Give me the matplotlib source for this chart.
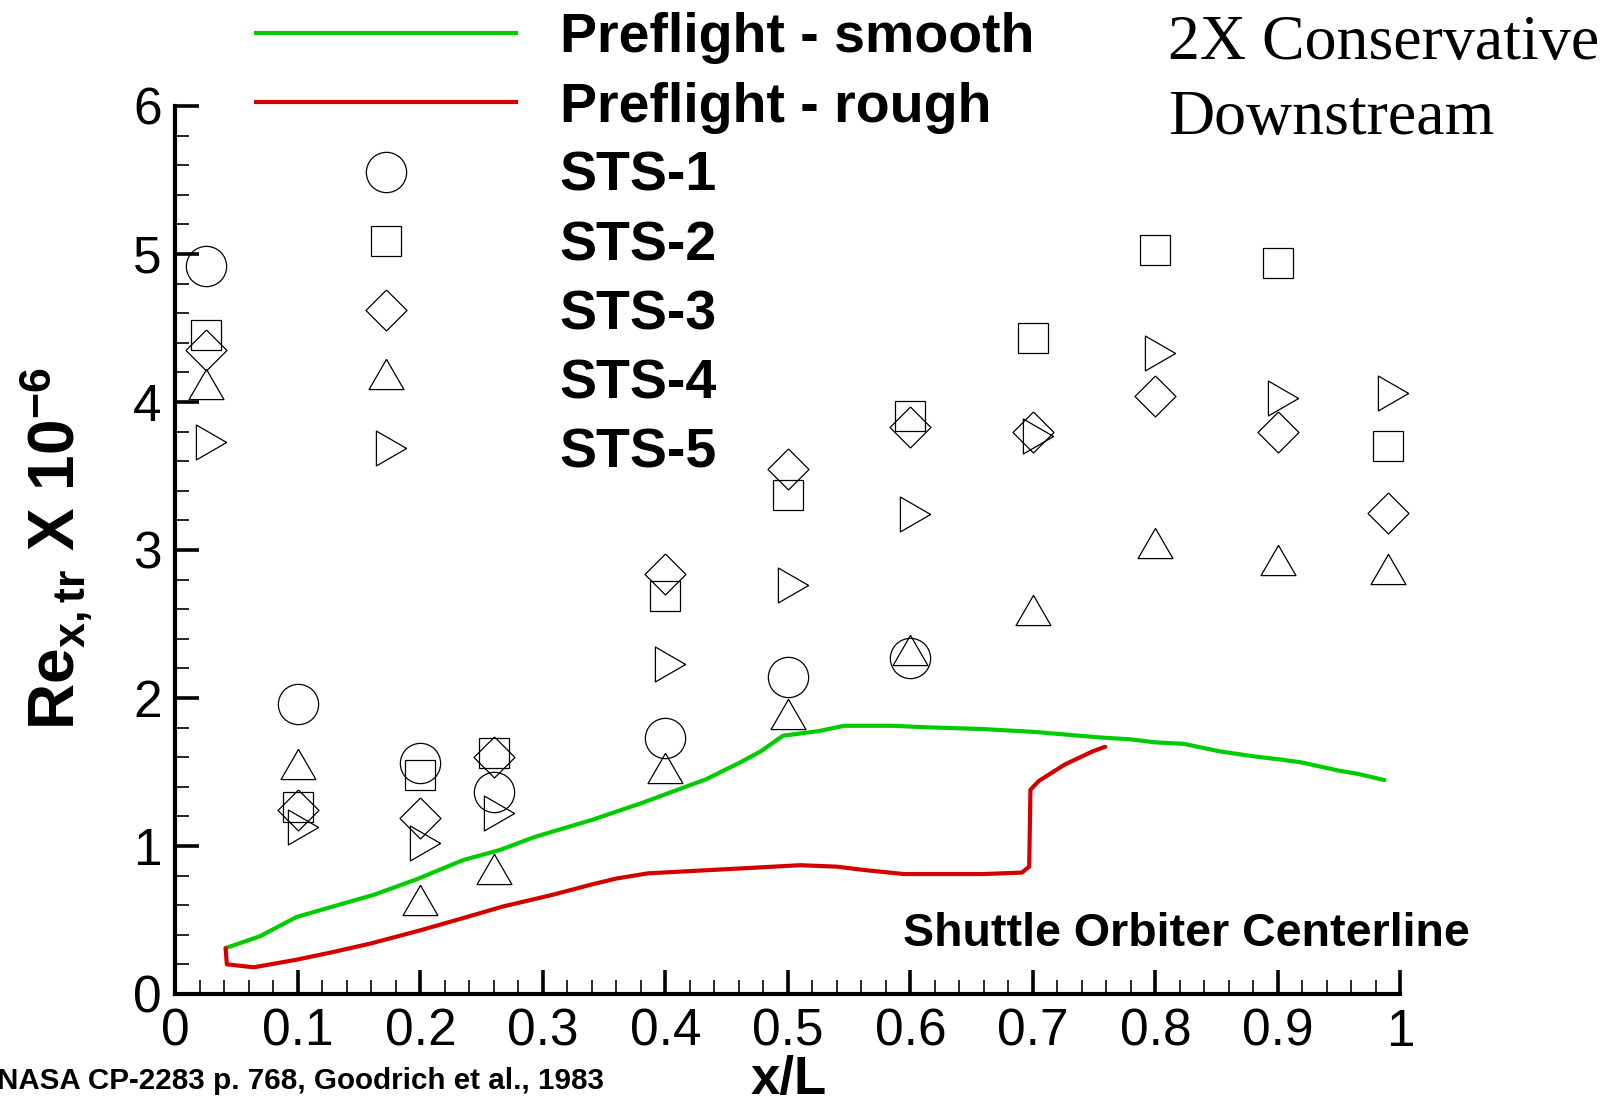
import matplotlib
matplotlib.use("Agg")
import matplotlib.pyplot as plt
from matplotlib.lines import Line2D
from matplotlib.ticker import MultipleLocator

plt.rcParams["font.family"] = ["Liberation Sans", "DejaVu Sans"]
plt.rcParams["mathtext.fontset"] = "custom"
plt.rcParams["mathtext.rm"] = "Liberation Sans:bold"
plt.rcParams["mathtext.bf"] = "Liberation Sans:bold"
plt.rcParams["mathtext.it"] = "Liberation Sans:bold"

# Preflight transition predictions along the centerline
smooth_x = [0.041, 0.069, 0.099, 0.124, 0.162, 0.197, 0.235, 0.265, 0.293, 0.340,
            0.380, 0.433, 0.460, 0.478, 0.496, 0.525, 0.546, 0.586, 0.612, 0.659,
            0.702, 0.755, 0.780, 0.800, 0.823, 0.852, 0.878, 0.902, 0.919, 0.949,
            0.966, 0.987]
smooth_y = [0.31, 0.39, 0.52, 0.58, 0.67, 0.775, 0.905, 0.973, 1.06, 1.176,
            1.288, 1.45, 1.56, 1.64, 1.745, 1.776, 1.812, 1.812, 1.802, 1.79,
            1.77, 1.733, 1.72, 1.70, 1.69, 1.64, 1.608, 1.584, 1.565, 1.51,
            1.486, 1.445]

rough_x = [0.041, 0.042, 0.064, 0.098, 0.127, 0.159, 0.200, 0.238, 0.267, 0.308,
           0.340, 0.360, 0.386, 0.420, 0.466, 0.510, 0.540, 0.565, 0.595, 0.630,
           0.659, 0.691, 0.697, 0.698, 0.705, 0.726, 0.749, 0.759]
rough_y = [0.31, 0.20, 0.18, 0.23, 0.28, 0.34, 0.43, 0.52, 0.59, 0.67,
           0.74, 0.78, 0.815, 0.83, 0.85, 0.87, 0.86, 0.835, 0.81, 0.81,
           0.81, 0.82, 0.86, 1.38, 1.44, 1.55, 1.64, 1.67]

# Flight data (STS-1 has no data aft of x/L = 0.6)
sts_x = [0.025, 0.1, 0.2, 0.26, 0.4, 0.5, 0.6, 0.7, 0.8, 0.9, 0.99]
sts1_x = sts_x[:7]
sts1_y = [4.92, 1.96, 1.56, 1.365, 1.73, 2.14, 2.27]
sts2_y = [4.45, 1.26, 1.48, 1.63, 2.69, 3.37, 3.905, 4.43, 5.03, 4.94, 3.70]
sts3_y = [4.35, 1.24, 1.19, 1.60, 2.84, 3.55, 3.83, 3.80, 4.04, 3.80, 3.25]
sts4_y = [4.09, 1.52, 0.60, 0.81, 1.49, 1.86, 2.29, 2.56, 3.01, 2.90, 2.84]
sts5_y = [3.73, 1.13, 1.02, 1.22, 2.23, 2.76, 3.24, 3.77, 4.33, 4.03, 4.06]

x_ticks = [0, 0.1, 0.2, 0.3, 0.4, 0.5, 0.6, 0.7, 0.8, 0.9, 1.0]
x_ticklabels = ["0", "0.1", "0.2", "0.3", "0.4", "0.5", "0.6", "0.7", "0.8", "0.9", "1"]

GREEN = "#00cc00"
RED = "#d40000"

# open symbols; triangles are centred on their centroid
TRI_UP = [(0, 0.577), (-0.5, -0.289), (0.5, -0.289), (0, 0.577)]
TRI_RIGHT = [(0.577, 0), (-0.289, 0.5), (-0.289, -0.5), (0.577, 0)]
DIAMOND = [(0, 1), (1, 0), (0, -1), (-1, 0), (0, 1)]
SYM = dict(ls="none", mfc="none", mec="black", mew=0.9)

fig = plt.figure(figsize=(16.18, 11.05), dpi=100)
ax = fig.add_axes([0.1084, 0.1005, 0.7571, 0.8036])

ax.plot(smooth_x, smooth_y, color=GREEN, lw=3.0, solid_capstyle="round")
ax.plot(rough_x, rough_y, color=RED, lw=3.0, solid_capstyle="round")
ax.plot(sts1_x, sts1_y, marker="o", ms=29, clip_on=False, **SYM)
ax.plot(sts_x, sts2_y, marker="s", ms=21, clip_on=False, **SYM)
ax.plot(sts_x, sts3_y, marker=DIAMOND, ms=29.5, clip_on=False, **SYM)
ax.plot(sts_x, sts4_y, marker=TRI_UP, ms=29, clip_on=False, **SYM)
ax.plot(sts_x, sts5_y, marker=TRI_RIGHT, ms=29, clip_on=False, **SYM)

ax.set_xlim(0, 1)
ax.set_ylim(0, 6)
ax.set_xticks(x_ticks)
ax.set_xticklabels(x_ticklabels)
ax.xaxis.set_minor_locator(MultipleLocator(0.02))
ax.yaxis.set_major_locator(MultipleLocator(1))
ax.yaxis.set_minor_locator(MultipleLocator(0.2))
ax.tick_params(which="major", direction="in", length=17, width=2.6,
               labelsize=37, pad=10)
ax.tick_params(which="minor", direction="in", length=10, width=1.2)
for side in ("top", "right"):
    ax.spines[side].set_visible(False)
for side in ("left", "bottom"):
    ax.spines[side].set_linewidth(3)

fig.text(0.4876, 1 - 1094 / 1105, "x/L", fontsize=38, fontweight="bold",
         ha="center", va="baseline")
fig.text(0.0351, 0.5032, r"Re$_{\mathbf{x,tr}}$ X 10$^{\mathbf{-6}}$",
         rotation=90, ha="center", va="center", fontsize=46, fontweight="bold")

ax.text(0.594, 0.405, "Shuttle Orbiter Centerline", fontsize=33.5,
        fontweight="bold", va="center", ha="left")
fig.text(-0.002, 0.022, "NASA CP-2283 p. 768, Goodrich et al., 1983",
         fontsize=21.3, fontweight="bold", ha="left", va="center")
fig.text(0.7219, 0.9466, "2X Conservative", fontsize=46,
         family="Liberation Serif", va="baseline")
fig.text(0.7219, 0.8787, "Downstream", fontsize=46,
         family="Liberation Serif", va="baseline")

handles = [
    Line2D([], [], color=GREEN, lw=3.0),
    Line2D([], [], color=RED, lw=3.0),
    Line2D([], [], marker="o", ms=29, **SYM),
    Line2D([], [], marker="s", ms=21, **SYM),
    Line2D([], [], marker=DIAMOND, ms=29.5, **SYM),
    Line2D([], [], marker=TRI_UP, ms=29, **SYM),
    Line2D([], [], marker=TRI_RIGHT, ms=29, **SYM),
]
labels = ["Preflight - smooth", "Preflight - rough", "STS-1", "STS-2",
          "STS-3", "STS-4", "STS-5"]
fig.legend(handles, labels, loc="upper left",
           bbox_to_anchor=(256 / 1618, 1 - 12.5 / 1105),
           bbox_transform=fig.transFigure, frameon=False,
           prop=dict(size=40, weight="bold"), numpoints=1,
           handlelength=4.68, handletextpad=0.79, labelspacing=0.31,
           borderpad=0, borderaxespad=0)

fig.savefig("out.png", dpi=100)
